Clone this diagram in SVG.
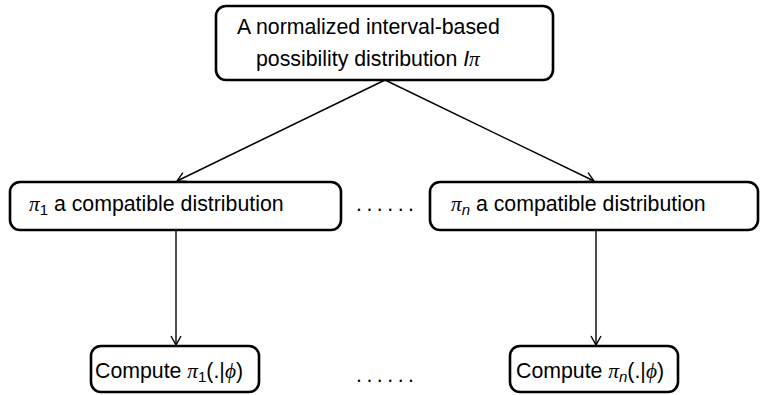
<svg xmlns="http://www.w3.org/2000/svg" width="761" height="395" viewBox="0 0 761 395">
<defs>
<marker id="ah" markerWidth="12" markerHeight="12" refX="10" refY="6" orient="auto" markerUnits="userSpaceOnUse">
<path d="M1,1 L10,6 L1,11" fill="none" stroke="#000" stroke-width="1.4"/>
</marker>
<style>
.box{fill:#fff;stroke:#000;stroke-width:2.6}
.t{font-family:"Liberation Sans",Arial,sans-serif;font-size:21.3px;fill:#000}
.m{font-family:"Liberation Serif","Times New Roman",serif;font-style:italic}
.c{stroke:#000;stroke-width:1.4;fill:none}
</style>
</defs>
<g id="connectors">
<line class="c" x1="385" y1="80" x2="177" y2="181" marker-end="url(#ah)"/>
<line class="c" x1="385" y1="80" x2="594" y2="181" marker-end="url(#ah)"/>
<line class="c" x1="176" y1="231" x2="176" y2="345" marker-end="url(#ah)"/>
<line class="c" x1="596" y1="231" x2="596" y2="345" marker-end="url(#ah)"/>
</g>
<g id="top">
<rect class="box" x="216" y="6" width="337" height="74" rx="10"/>
<text class="t" x="237" y="34">A normalized interval-based</text>
<text class="t" x="256" y="66">possibility distribution <tspan font-style="italic">I</tspan><tspan class="m">π</tspan></text>
</g>
<g id="pi1">
<rect class="box" x="10" y="182" width="331" height="48" rx="10"/>
<text class="t" x="29" y="211"><tspan class="m">π</tspan><tspan font-size="15" dy="4">1</tspan><tspan dy="-4"> a compatible distribution</tspan></text>
</g>
<g id="dots-mid">
<text class="t" x="356" y="211" letter-spacing="4.5">......</text>
</g>
<g id="pin">
<rect class="box" x="430" y="182" width="328" height="48" rx="10"/>
<text class="t" x="451" y="211"><tspan class="m">π</tspan><tspan font-size="15" dy="4" font-style="italic">n</tspan><tspan dy="-4"> a compatible distribution</tspan></text>
</g>
<g id="c1">
<rect class="box" x="91" y="346" width="168" height="46" rx="10"/>
<text class="t" x="95" y="378">Compute <tspan class="m">π</tspan><tspan font-size="15" dy="4">1</tspan><tspan dy="-4">(.|</tspan><tspan class="m">ϕ</tspan>)</text>
</g>
<g id="dots-bot">
<text class="t" x="356" y="382" letter-spacing="4.5">......</text>
</g>
<g id="cn">
<rect class="box" x="510" y="346" width="168" height="46" rx="10"/>
<text class="t" x="516" y="378">Compute <tspan class="m">π</tspan><tspan font-size="15" dy="4" font-style="italic">n</tspan><tspan dy="-4">(.|</tspan><tspan class="m">ϕ</tspan>)</text>
</g>
</svg>
